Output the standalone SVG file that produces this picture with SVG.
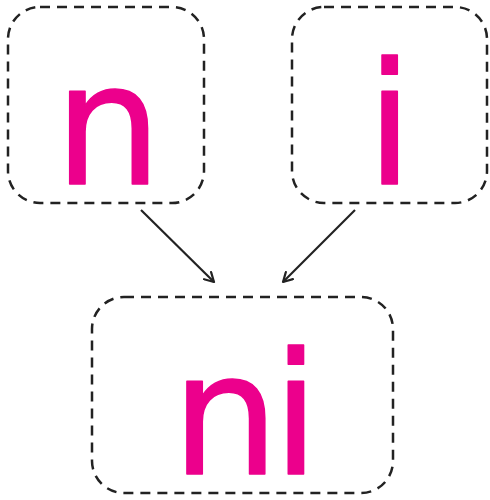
<svg xmlns="http://www.w3.org/2000/svg" width="490" height="500" viewBox="0 0 490 500">
  <style>
    .box { fill: none; stroke: #222; stroke-width: 2.5; stroke-dasharray: 10 7; }
    .glyph { font-family: "DejaVu Sans", sans-serif; font-size: 170px; fill: #EC008C; stroke: #EC008C; stroke-width: 1.5; stroke-linejoin: round; }
    .conn { fill: none; stroke: #222; stroke-width: 2.2; }
  </style>
  <defs>
    <marker id="arrow" viewBox="0 0 12 12" refX="10" refY="6" markerWidth="12" markerHeight="12" markerUnits="userSpaceOnUse" orient="auto">
      <path d="M1,1 L10,6 L1,11" fill="none" stroke="#222" stroke-width="2.2" stroke-linecap="round" stroke-linejoin="round"/>
    </marker>
  </defs>
  <g id="node-n">
    <rect class="box" x="8" y="7" width="196" height="196" rx="32"/>
    <text class="glyph" x="108" y="184" text-anchor="middle">n</text>
  </g>
  <g id="node-i">
    <rect class="box" x="292" y="7" width="195" height="196" rx="32"/>
    <text class="glyph" x="389.5" y="184" text-anchor="middle">i</text>
  </g>
  <g id="node-ni">
    <rect class="box" x="92" y="297" width="301" height="196" rx="32"/>
    <text class="glyph" x="171.6" y="474" letter-spacing="-7">ni</text>
  </g>
  <g id="connectors">
    <line class="conn" x1="141" y1="210" x2="214" y2="282" marker-end="url(#arrow)"/>
    <line class="conn" x1="355" y1="210" x2="283" y2="282" marker-end="url(#arrow)"/>
  </g>
</svg>
